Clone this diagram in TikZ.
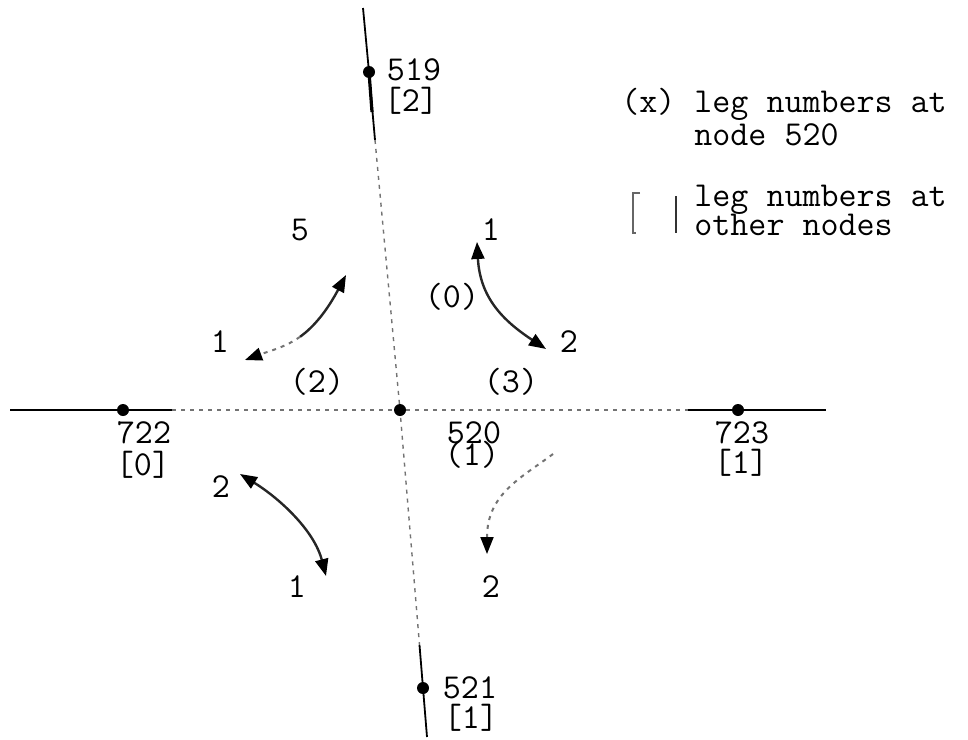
\documentclass[tikz,border=0pt]{standalone}
\usetikzlibrary{arrows.meta,backgrounds}
\newcommand\lbfont{\fontsize{17.5}{16}\selectfont\ttfamily}
\tikzset{
  lbl/.style={font=\lbfont, inner sep=0pt, anchor=base},
  legtxt/.style={font=\lbfont, inner sep=0pt, anchor=base west},
  dot/.style={circle, fill=black, inner sep=0pt, minimum size=6pt},
  mainline/.style={line width=0.9pt, black},
  boldline/.style={line width=1.6pt, black},
  faintline/.style={line width=0.7pt, black!55, dash pattern=on 2pt off 2.5pt},
  tipend/.style={-{Triangle[length=8.5pt,width=6.5pt,color=black]}},
  tipboth/.style={{Triangle[length=8.5pt,width=6.5pt,color=black]}-{Triangle[length=8.5pt,width=6.5pt,color=black]}},
  arcline/.style={line width=1.2pt, black!85},
}
\begin{document}
\begin{tikzpicture}[x=0.5pt,y=-0.5pt]
\useasboundingbox (0,0) rectangle (968,739);
% nodes (dots)
\node[dot] (n519) at (369,72) {};
\node[dot] (n520) at (400,410) {};
\node[dot] (n521) at (423,688) {};
\node[dot] (n722) at (123,410) {};
\node[dot] (n723) at (738,410) {};
% line ends
\coordinate (vtop) at (363,8);
\coordinate (vb0) at (372,112);
\coordinate (vb1) at (375,140);
\coordinate (vb2) at (419.5,645);
\coordinate (vbot) at (427,737);
\coordinate (hl0) at (10,410);
\coordinate (hl1) at (172,410);
\coordinate (hr1) at (688,410);
\coordinate (hr0) at (826,410);
\begin{scope}[on background layer]
% vertical line
\draw[mainline] (vtop) -- (n519.center) -- (vb1);
\draw[boldline] (n519.center) -- (vb0);
\draw[faintline] (vb1) -- (n520.center) -- (vb2);
\draw[mainline] (vb2) -- (n521.center) -- (vbot);
% horizontal line
\draw[mainline] (hl0) -- (n722.center) -- (hl1);
\draw[faintline] (hl1) -- (n520.center) -- (hr1);
\draw[mainline] (hr1) -- (n723.center) -- (hr0);
\end{scope}
% node labels
\node[lbl] (t519) at (414,80) {519};
\node[lbl] (b519) at (411,111) {[2]};
\node[lbl] (t722) at (144,443) {722};
\node[lbl] (b722) at (143,475) {[0]};
\node[lbl] (t723) at (742,443) {723};
\node[lbl] (b723) at (741,473) {[1]};
\node[lbl] (t520) at (474,443) {520};
\node[lbl] (l1) at (472,465) {(1)};
\node[lbl] (t521) at (470,698) {521};
\node[lbl] (b521) at (471,728) {[1]};
\node[lbl] (l2) at (317,392) {(2)};
\node[lbl] (l3) at (511,392) {(3)};
\node[lbl] (l0) at (452,307) {(0)};
% arrow end labels
\node[lbl] (a5) at (300,240) {5};
\node[lbl] (a1a) at (220,352) {1};
\node[lbl] (a1b) at (491,240) {1};
\node[lbl] (a2b) at (569,352) {2};
\node[lbl] (a2c) at (221,497) {2};
\node[lbl] (a1c) at (297,597) {1};
\node[lbl] (a2d) at (491,597) {2};
% curved arrows
\coordinate (tlA) at (245,360);
\coordinate (tlM) at (300,336.8);
\coordinate (tlB) at (346,275);
\draw[arcline, tipend] (tlM) .. controls (314.5,326.5) and (327.5,309.75) .. (tlB);
\draw[faintline, line width=1pt, tipend] (tlM) .. controls (285.5,347.1) and (269.5,351) .. (tlA);
\coordinate (trA) at (477,242);
\coordinate (trB) at (546,349);
\draw[arcline, tipboth] (trA) .. controls (480,297) and (502,320) .. (trB);
\coordinate (blA) at (240,474);
\coordinate (blB) at (326,576);
\draw[arcline, tipboth] (blA) .. controls (279,498) and (314,530) .. (blB);
\coordinate (brA) at (553,454);
\coordinate (brB) at (487,554);
\draw[faintline, line width=1pt, tipend] (brA) .. controls (521,478) and (487,494) .. (brB);
% legend
\node[legtxt] (lg1) at (621,112.7) {(x)};
\node[legtxt] (lg2) at (694,112.7) {leg numbers at};
\node[legtxt] (lg3) at (694,145) {node 520};
\node[legtxt] (lg4) at (694,206.7) {leg numbers at};
\node[legtxt] (lg5) at (694,235) {other nodes};
\draw[black!60, line width=0.6pt] (640,193) -- (633,193) -- (633,233) -- (636,233);
\draw[black!80, line width=0.8pt] (676,196) -- (676,233);
\end{tikzpicture}
\end{document}
